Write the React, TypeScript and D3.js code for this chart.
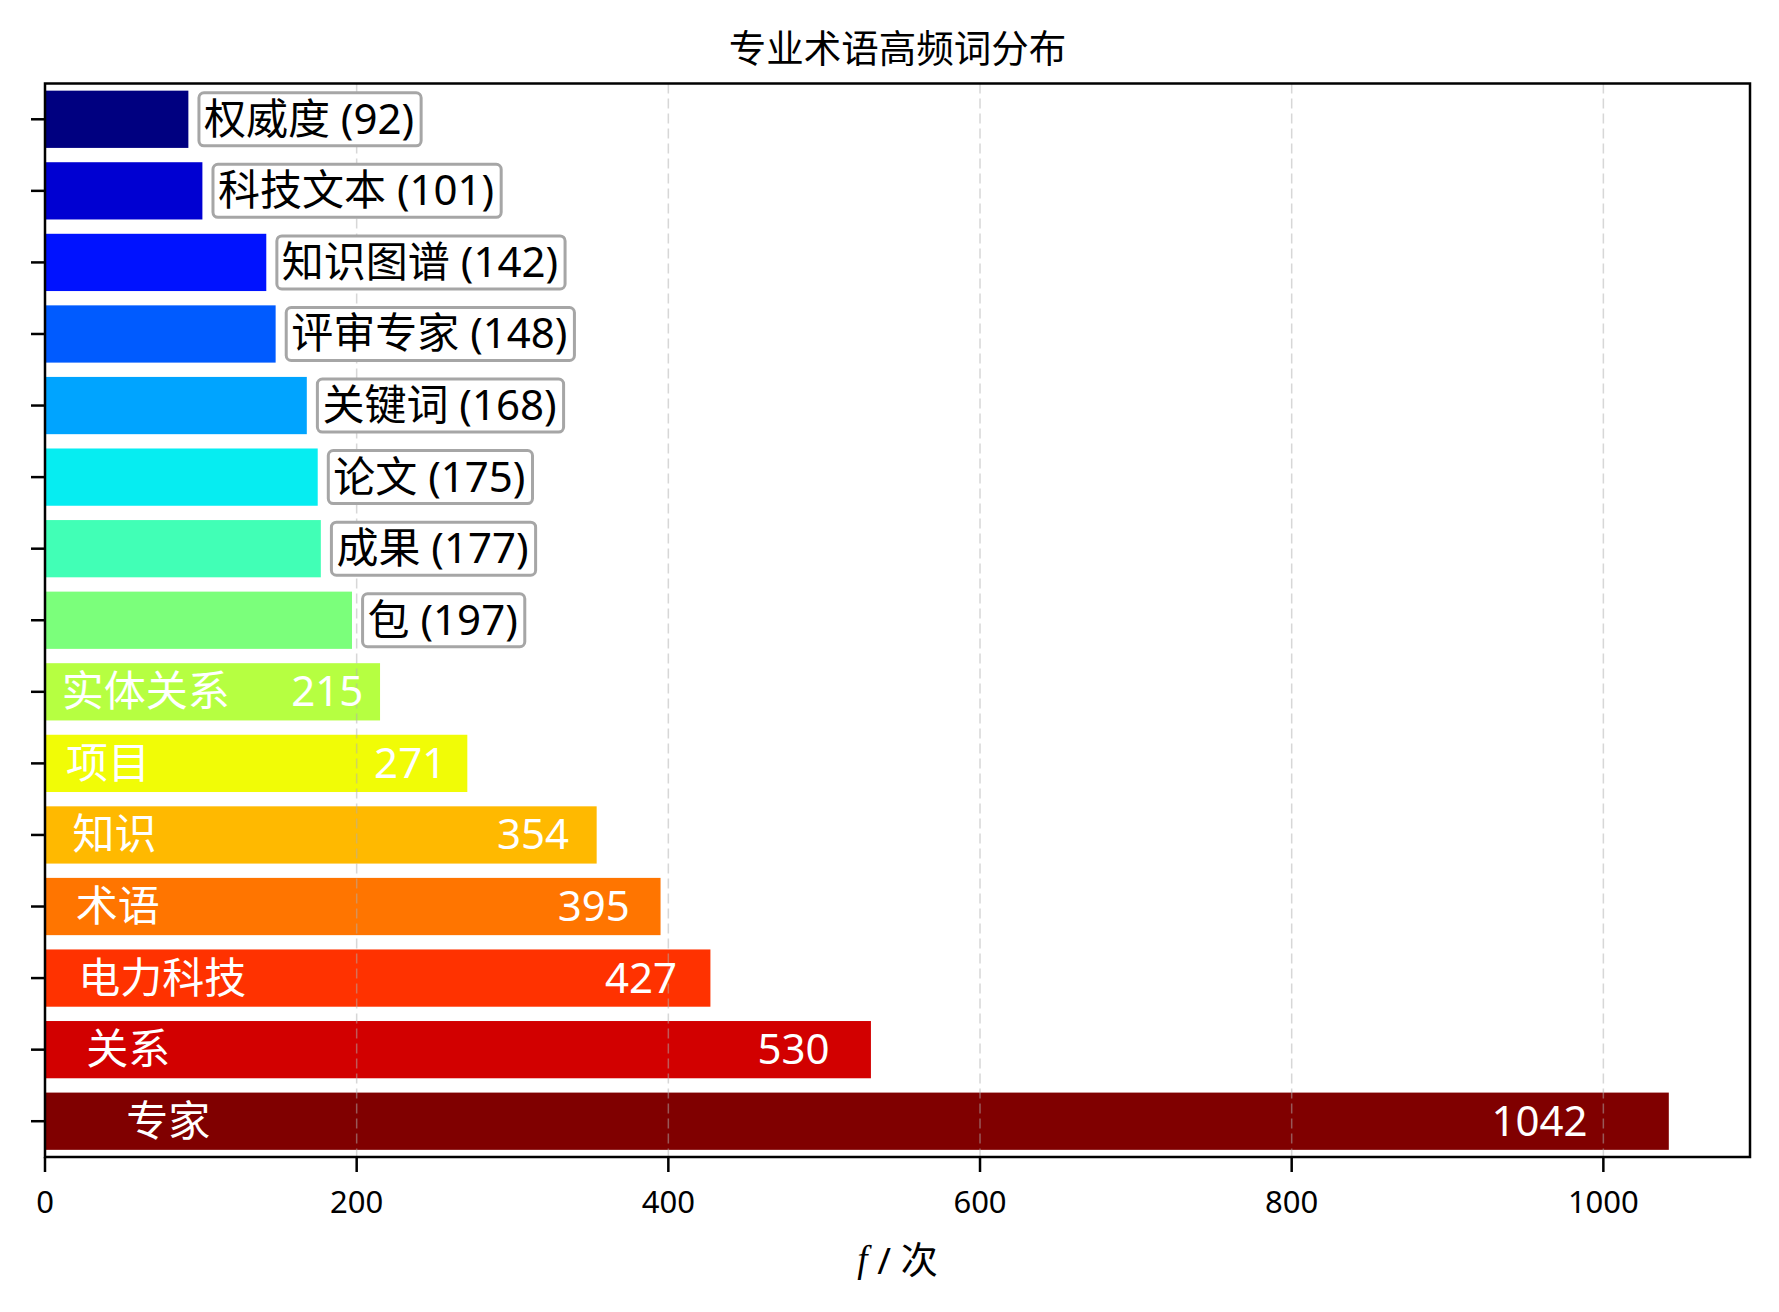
import React, { useEffect, useRef } from 'react';
import * as d3 from 'd3';

const categories = ['专家', '关系', '电力科技', '术语', '知识', '项目', '实体关系', '包', '成果', '论文', '关键词', '评审专家', '知识图谱', '科技文本', '权威度'];
const values = [1042, 530, 427, 395, 354, 271, 215, 197, 177, 175, 168, 148, 142, 101, 92];
const xTicks = [0, 200, 400, 600, 800, 1000];
const title = '专业术语高频词分布';

const W = 1779;
const H = 1312;
const FONT = "'Noto Sans', 'Noto Sans CJK SC', sans-serif";

function interp(pts: number[][], t: number) {
  for (let i = 1; i < pts.length; i++) {
    if (t <= pts[i][0]) {
      const [x0, y0] = pts[i - 1];
      const [x1, y1] = pts[i];
      return y0 + ((t - x0) / (x1 - x0)) * (y1 - y0);
    }
  }
  return pts[pts.length - 1][1];
}

function jet(t: number) {
  const r = interp([[0, 0], [0.35, 0], [0.66, 1], [0.89, 1], [1, 0.5]], t);
  const g = interp([[0, 0], [0.125, 0], [0.375, 1], [0.64, 1], [0.91, 0], [1, 0]], t);
  const b = interp([[0, 0.5], [0.11, 1], [0.34, 1], [0.65, 0], [1, 0]], t);
  return d3.rgb(Math.round(r * 255), Math.round(g * 255), Math.round(b * 255)).formatHex();
}

export default function App() {
  const ref = useRef<SVGSVGElement>(null);

  useEffect(() => {
    const svg = d3.select(ref.current);
    svg.selectAll('*').remove();

    const left = 45, right = 1750, top = 83.5, bottom = 1157;
    const x = d3.scaleLinear().domain([0, 1094.1]).range([left, right]);
    const y = d3.scaleLinear().domain([-0.5, 14.5]).range([bottom, top]);
    const n = values.length;
    const barH = y(0) - y(0.8);

    svg.append('rect').attr('width', W).attr('height', H).attr('fill', '#fff');

    // title
    svg.append('text')
      .attr('x', (left + right) / 2).attr('y', 47)
      .attr('text-anchor', 'middle').attr('dominant-baseline', 'central')
      .attr('font-family', FONT).attr('font-size', 37.5).attr('fill', '#000')
      .text(title);

    // bars
    const g = svg.append('g');
    g.selectAll('rect.bar').data(values).enter().append('rect')
      .attr('class', 'bar')
      .attr('x', x(0))
      .attr('y', (_, i) => y(i + 0.4))
      .attr('width', (v) => x(v) - x(0))
      .attr('height', barH)
      .attr('fill', (_, i) => jet((n - 1 - i) / (n - 1)));

    // grid (on top of bars)
    svg.append('g').selectAll('line').data(xTicks.slice(1)).enter().append('line')
      .attr('x1', (d) => x(d)).attr('x2', (d) => x(d))
      .attr('y1', top).attr('y2', bottom)
      .attr('stroke', '#b0b0b0').attr('stroke-opacity', 0.5)
      .attr('stroke-width', 1.5).attr('stroke-dasharray', '10,5');

    // labels
    const FS = 42;
    values.forEach((v, i) => {
      const cy = y(i) - 2;
      if (v < 200) {
        const lg = svg.append('g');
        const t = lg.append('text')
          .attr('x', x(v + 10)).attr('y', cy)
          .attr('dominant-baseline', 'central')
          .attr('font-family', FONT).attr('font-size', FS).attr('fill', '#000')
          .text(`${categories[i]} (${v})`);
        const w = (t.node() as SVGTextElement).getComputedTextLength();
        lg.insert('rect', 'text')
          .attr('x', x(v + 10) - 5).attr('y', y(i) - 26.5)
          .attr('width', w + 12).attr('height', 53)
          .attr('rx', 5).attr('ry', 5)
          .attr('fill', '#fff').attr('stroke', '#a6a6a6').attr('stroke-width', 3);
      } else {
        svg.append('text')
          .attr('x', x(v * 0.05)).attr('y', cy)
          .attr('dominant-baseline', 'central')
          .attr('font-family', FONT).attr('font-size', FS).attr('fill', '#fff')
          .text(categories[i]);
        svg.append('text')
          .attr('x', x(v * 0.95)).attr('y', cy)
          .attr('text-anchor', 'end')
          .attr('dominant-baseline', 'central')
          .attr('font-family', FONT).attr('font-size', FS).attr('fill', '#fff')
          .text(String(v));
      }
    });

    // spines
    svg.append('rect')
      .attr('x', left).attr('y', top).attr('width', right - left).attr('height', bottom - top)
      .attr('fill', 'none').attr('stroke', '#000').attr('stroke-width', 2.5);

    // y ticks
    svg.append('g').selectAll('line').data(values).enter().append('line')
      .attr('x1', left - 14).attr('x2', left)
      .attr('y1', (_, i) => y(i)).attr('y2', (_, i) => y(i))
      .attr('stroke', '#000').attr('stroke-width', 2.5);

    // x axis ticks
    const xa = svg.append('g');
    xTicks.forEach((t) => {
      xa.append('line')
        .attr('x1', x(t)).attr('x2', x(t)).attr('y1', bottom).attr('y2', bottom + 15)
        .attr('stroke', '#000').attr('stroke-width', 2.5);
      xa.append('text')
        .attr('x', x(t)).attr('y', 1201)
        .attr('text-anchor', 'middle').attr('dominant-baseline', 'central')
        .attr('font-family', FONT).attr('font-size', 31).attr('fill', '#000')
        .text(String(t));
    });

    // x label
    const xl = svg.append('text')
      .attr('x', (left + right) / 2).attr('y', 1259)
      .attr('text-anchor', 'middle').attr('dominant-baseline', 'central')
      .attr('font-family', FONT).attr('font-size', 37).attr('fill', '#000');
    xl.append('tspan').attr('font-family', "'Liberation Serif', serif").attr('font-style', 'italic').text('f');
    xl.append('tspan').text(' / 次');
  }, []);

  return (
    <svg
      ref={ref}
      width={W}
      height={H}
      style={{ position: 'absolute', left: 0, top: 0, display: 'block' }}
    />
  );
}
